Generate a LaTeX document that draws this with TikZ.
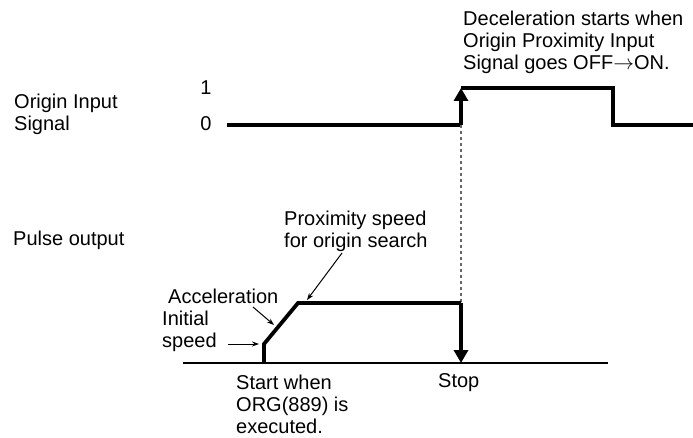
\documentclass[tikz,border=0pt]{standalone}
\usepackage{fontspec}
\setmainfont{Liberation Sans}
\usetikzlibrary{arrows.meta,positioning}
\tikzset{
  lbl/.style={anchor=west, align=left, inner sep=0pt, font=\fontsize{20}{22}\selectfont},
  level/.style={inner sep=0pt, font=\fontsize{20}{22}\selectfont},
  wave/.style={line width=3.8pt, line join=miter},
  bigarrow/.style={wave, -{Triangle[length=13pt, width=14pt]}},
  leader/.style={line width=1pt, -{Stealth[length=7pt, width=5pt]}},
  axisline/.style={line width=1.3pt},
  guide/.style={line width=1.3pt, gray!80!black, dash pattern=on 3pt off 3pt}
}
\begin{document}
\begin{tikzpicture}[x=1pt, y=-1pt]
  \useasboundingbox (0,0) rectangle (693,438);

  % labels
  \node[lbl] (origin) at (14,114) {Origin Input\\Signal};
  \node[level] (one) at (206,88) {1};
  \node[level] (zero) at (206,124) {0};
  \node[lbl] (decel) at (463,42) {Deceleration starts when\\Origin Proximity Input\\Signal goes OFF$\rightarrow$ON.};
  \node[lbl] (pulse) at (13,240) {Pulse output};
  \node[lbl] (prox) at (284,231) {Proximity speed\\for origin search};
  \node[lbl] (accel) at (168,296) {Acceleration};
  \node[lbl] (init) at (162,331) {Initial\\speed};
  \node[lbl] (stop) at (438,383) {Stop};
  \node[lbl] (start) at (236,404) {Start when\\ORG(889) is\\executed.};

  % origin input signal
  \coordinate (sigL) at (227,125);
  \coordinate (sigUp) at (461,125);
  \coordinate (sigTop) at (461,88);
  \coordinate (sigDn) at (613,88);
  \coordinate (sigLow) at (613,125);
  \coordinate (sigR) at (693,125);
  \draw[wave] (sigL) -- (sigUp);
  \draw[bigarrow] (sigUp) -- (sigTop);
  \draw[wave] (sigTop) -- (sigDn) -- (sigLow) -- (sigR);

  % pulse output
  \coordinate (baseL) at (183,363);
  \coordinate (baseR) at (608,363);
  \coordinate (p0) at (264,363);
  \coordinate (p1) at (264,344);
  \coordinate (p2) at (298,303);
  \coordinate (p3) at (461,303);
  \coordinate (p4) at (461,363);
  \draw[axisline] (baseL) -- (baseR);
  \draw[guide] (sigUp) -- (p3);
  \draw[wave] (p0) -- (p1) -- (p2) -- (p3);
  \draw[bigarrow] (p3) -- (p4);

  % leaders
  \coordinate (initFrom) at (228,344);
  \coordinate (initTo) at (259,344);
  \coordinate (accFrom) at (253,307);
  \coordinate (accTo) at (274,325);
  \coordinate (proxFrom) at (342,253);
  \coordinate (proxTo) at (307,300);
  \draw[leader] (initFrom) -- (initTo);
  \draw[leader] (accFrom) -- (accTo);
  \draw[leader] (proxFrom) -- (proxTo);
\end{tikzpicture}
\end{document}
